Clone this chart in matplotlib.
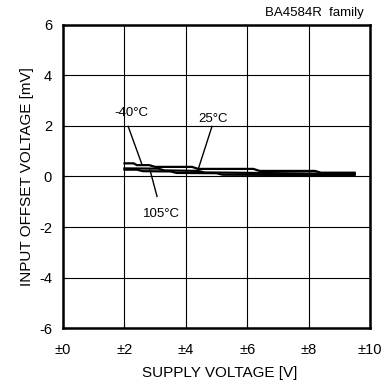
import matplotlib
matplotlib.use("Agg")
import matplotlib.pyplot as plt

plt.rcParams['font.family'] = ['Liberation Sans', 'DejaVu Sans']
plt.rcParams['axes.unicode_minus'] = False

# supply voltage [±V] and input offset voltage [mV]
v_m40 = [2.0, 2.3, 2.4, 2.8, 3.0, 4.2, 4.4, 6.2, 6.4, 8.2, 8.4, 9.5]
off_m40 = [0.52, 0.52, 0.45, 0.45, 0.38, 0.38, 0.30, 0.30, 0.22, 0.22, 0.15, 0.15]
v_25 = [2.0, 3.1, 3.3, 4.4, 4.6, 9.5]
off_25 = [0.32, 0.31, 0.24, 0.22, 0.16, 0.10]
v_105 = [2.0, 2.4, 2.6, 3.5, 3.7, 5.0, 5.2, 9.5]
off_105 = [0.27, 0.27, 0.21, 0.20, 0.14, 0.13, 0.07, 0.05]

xticks = [0, 2, 4, 6, 8, 10]
xtick_labels = ["±0", "±2", "±4", "±6", "±8", "±10"]
yticks = [-6, -4, -2, 0, 2, 4, 6]

fig = plt.figure(figsize=(3.92, 3.82), dpi=100)
ax = fig.add_axes([0.161, 0.141, 0.783, 0.794])

for v, off in [(v_m40, off_m40), (v_25, off_25), (v_105, off_105)]:
    ax.plot(v, off, color='black', lw=1.6, solid_joinstyle='miter')

ax.set_xlim(0, 10)
ax.set_ylim(-6, 6)
ax.set_xticks(xticks)
ax.set_xticklabels(xtick_labels)
ax.set_yticks(yticks)
ax.grid(True, color='black', lw=0.8)
for s in ax.spines.values():
    s.set_linewidth(1.8)
ax.tick_params(direction='in', length=3, labelsize=10.5)
ax.tick_params(axis='x', pad=11)
ax.tick_params(axis='y', pad=8)

ax.set_xlabel("SUPPLY VOLTAGE [V]", fontsize=11)
ax.xaxis.set_label_coords(0.51, -0.125)
ax.set_ylabel("INPUT OFFSET VOLTAGE [mV]", fontsize=11)
ax.yaxis.set_label_coords(-0.095, 0.5)
ax.text(0.98, 1.02, "BA4584R  family", transform=ax.transAxes, fontsize=9.5,
        ha='right', va='bottom')

# labels with leader lines
ax.text(2.21, 2.53, "-40°C", fontsize=9.5, ha='center', va='center')
ax.plot([2.12, 2.57], [1.98, 0.47], color='black', lw=1.0)
ax.text(4.89, 2.26, "25°C", fontsize=9.5, ha='center', va='center')
ax.plot([4.85, 4.40], [1.98, 0.28], color='black', lw=1.0)
ax.text(3.22, -1.5, "105°C", fontsize=9.5, ha='center', va='center')
ax.plot([3.06, 2.83], [-0.79, 0.26], color='black', lw=1.0)

fig.savefig("out.png", dpi=100)
